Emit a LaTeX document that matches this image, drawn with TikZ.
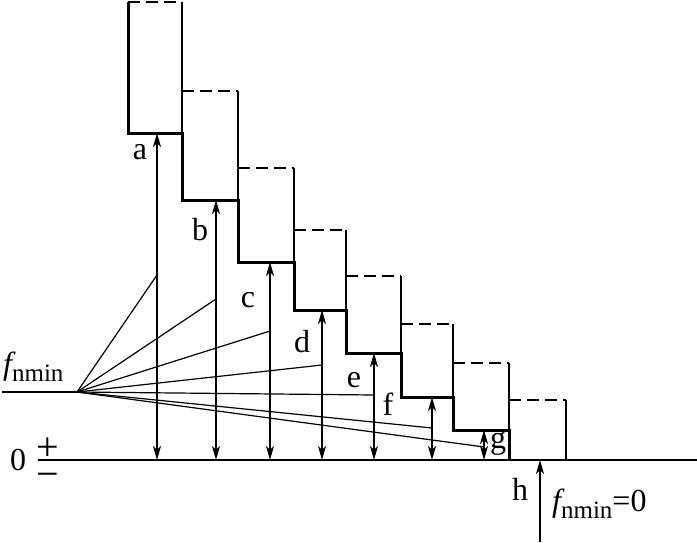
\documentclass[tikz,border=0pt]{standalone}
\usepackage{fontspec}
\setmainfont{Liberation Serif}
\usepackage{tikz}
\usetikzlibrary{arrows.meta,calc}

\newcommand{\fnm}{{\itshape f}\raisebox{-7pt}{\fontsize{25}{28}\selectfont nmin}}

\begin{document}
\begin{tikzpicture}[
    x=1pt, y=-1pt,
    outline/.style={line width=1.2pt},
    stairs/.style={line width=3pt},
    topline/.style={line width=1.2pt, dash pattern=on 12pt off 6pt},
    zeroline/.style={line width=2pt},
    dimline/.style={line width=1.2pt, {Stealth[length=14pt,width=8pt,inset=4pt]}-{Stealth[length=14pt,width=8pt,inset=4pt]}},
    uparrow/.style={line width=1.2pt, -{Stealth[length=14pt,width=8pt,inset=4pt]}},
    lbl/.style={font=\fontsize{32}{36}\selectfont, inner sep=0pt}
]
\useasboundingbox (0,0) rectangle (697,542);

% Steps: left x / right x / top y / bottom y
\foreach \xl/\xr/\yt/\yb in {128/182/2/133, 182/238/91/200, 238/294/168/262, 294/346/230/310,
                              346/401/276/353, 401/453/324/397, 453/509/363/430, 509/566/400/460} {
  \draw[topline] (\xl,\yt) -- (\xr,\yt);
  \draw[outline] (\xr,\yt) -- (\xr,\yb);
}

% Bold staircase
\draw[stairs] (128,2) |- (182,133) |- (238,200) |- (294,262) |- (346,310)
  |- (401,353) |- (453,397) |- (509,430) -- (509,460);

% Zero line and f_nmin line
\coordinate (orig) at (77,392);
\coordinate (fstart) at (2,392);
\coordinate (zstart) at (38,460);
\coordinate (zend) at (697,460);
\draw[outline] (fstart) -- (orig);
\draw[zeroline] (zstart) -- (zend);

% Arrows and rays
\foreach \n/\x/\y/\r in {a/157/133/275, b/216/200/299, c/270/262/331, d/322/310/365,
                         e/374/353/395, f/432/397/428, g/484/430/447} {
  \coordinate (\n top) at (\x,\y);
  \coordinate (\n bot) at (\x,460);
  \coordinate (\n ray) at (\x,\r);
  \draw[dimline] (\n bot) -- (\n top);
  \draw[outline] (orig) -- (\n ray);
}
\coordinate (h bot) at (540,542);
\coordinate (h top) at (540,460);
\draw[uparrow] (h bot) -- (h top);

% Labels
\node[lbl, anchor=base] (la) at (140,159) {a};
\node[lbl, anchor=base] (lb) at (200,240) {b};
\node[lbl, anchor=base] (lc) at (248,307) {c};
\node[lbl, anchor=base] (ld) at (302,352) {d};
\node[lbl, anchor=base] (le) at (354,387) {e};
\node[lbl, anchor=base] (lf) at (388,415) {f};
\node[lbl, anchor=base] (lg) at (498,448) {g};
\node[lbl, anchor=base] (lh) at (520,500) {h};
\node[lbl, anchor=base west] (fleft) at (3,374) {\fnm};
\node[lbl, anchor=base west] (fzero) at (552,511) {\fnm=0};
\node[lbl, anchor=base] (zero) at (18,470) {0};
\node[lbl, font=\fontsize{40}{27}\selectfont, align=center] (pm) at (48,463) {+\\−};

\end{tikzpicture}
\end{document}
